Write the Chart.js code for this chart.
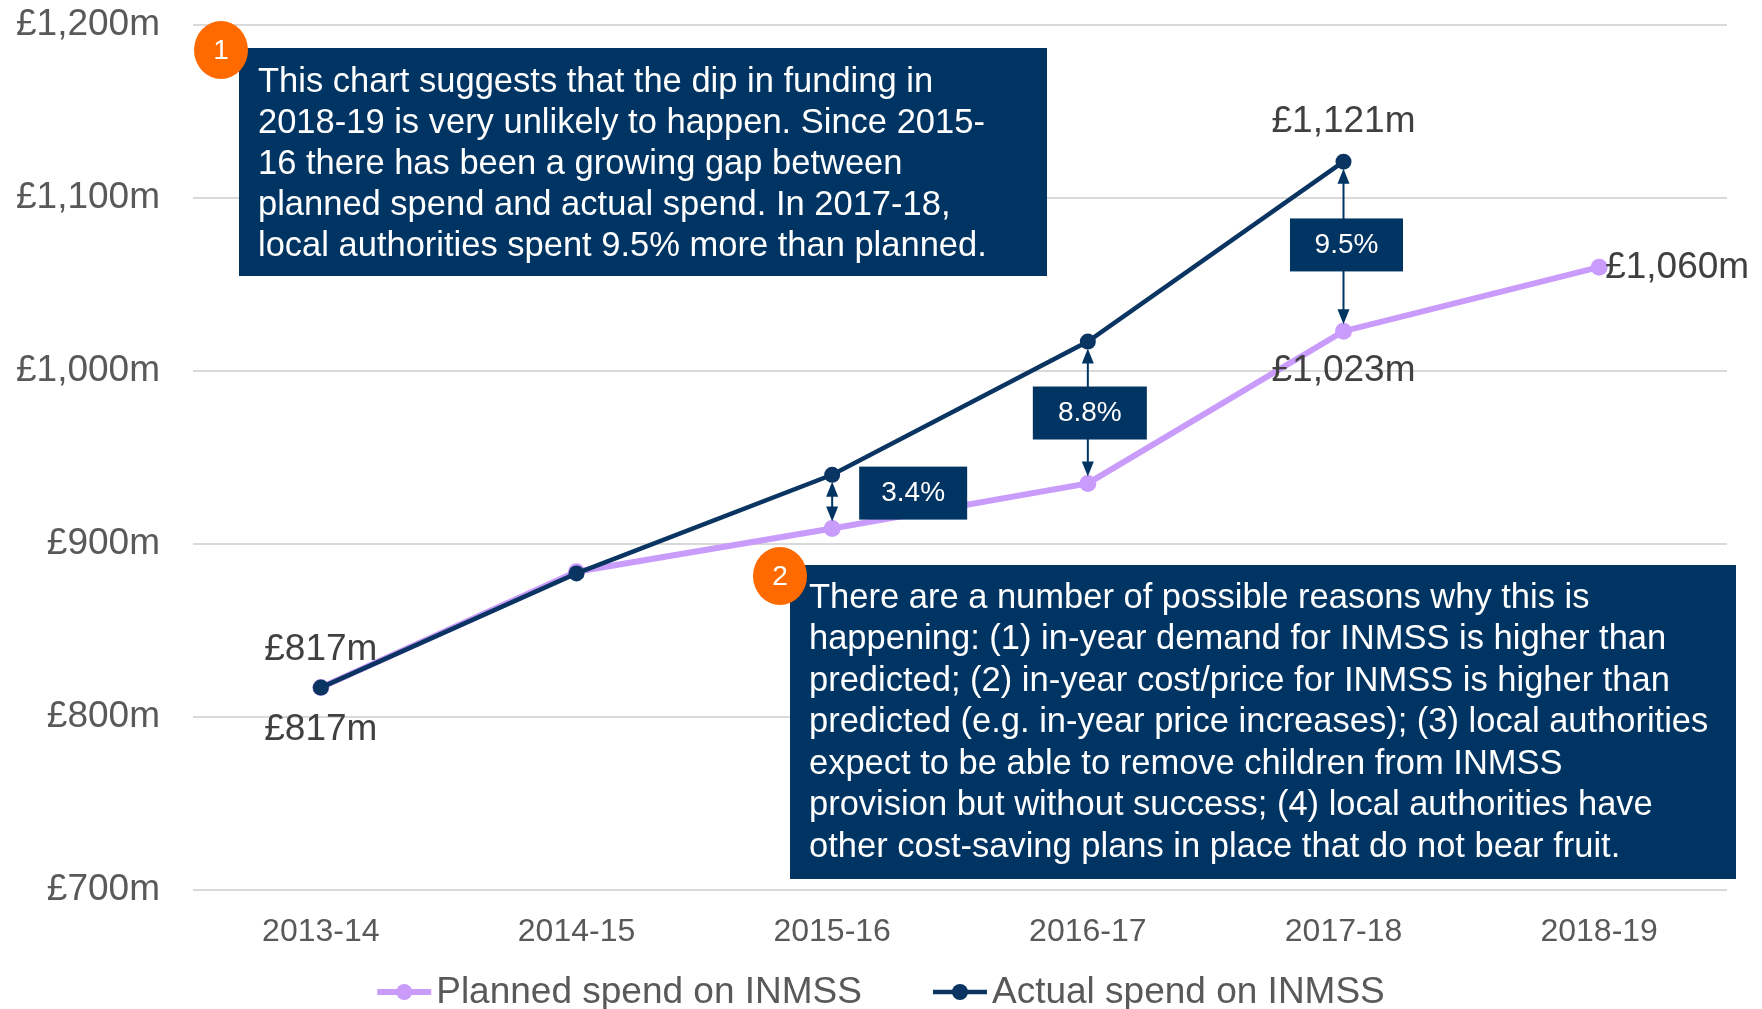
<!DOCTYPE html>
<html>
<head>
<meta charset="utf-8">
<script src="https://cdn.jsdelivr.net/npm/chart.js@4.4.1/dist/chart.umd.min.js"></script>
<style>
  html, body { margin: 0; padding: 0; background: #fff; }
  #wrap { width: 1762px; height: 1009px; position: relative; }
</style>
</head>
<body>
<div id="wrap"><canvas id="chart" width="1762" height="1009"></canvas></div>
<script>
// ============ DATA ============
const years = ['2013-14', '2014-15', '2015-16', '2016-17', '2017-18', '2018-19'];
const plannedSpend = [817, 884, 909, 935, 1023, 1060];
const actualSpend = [817, 883, 940, 1017, 1121, null];
const seriesNames = ['Planned spend on INMSS', 'Actual spend on INMSS'];
const yTicks = [700, 800, 900, 1000, 1100, 1200];

// gap between actual and planned, shown as boxes with arrows
const gapYears = ['2015-16', '2016-17', '2017-18'];
const gapLabels = ['3.4%', '8.8%', '9.5%'];

const note1Lines = [
    'This chart suggests that the dip in funding in',
    '2018-19 is very unlikely to happen. Since 2015-',
    '16 there has been a growing gap between',
    'planned spend and actual spend. In 2017-18,',
    'local authorities spent 9.5% more than planned.'
];
const note2Lines = [
    'There are a number of possible reasons why this is',
    'happening: (1) in-year demand for INMSS is higher than',
    'predicted; (2) in-year cost/price for INMSS is higher than',
    'predicted (e.g. in-year price increases); (3) local authorities',
    'expect to be able to remove children from INMSS',
    'provision but without success; (4) local authorities have',
    'other cost-saving plans in place that do not bear fruit.'
];

// ============ STYLE ============
const NAVY = '#003463';
const LINE_NAVY = '#0a3461';
const PURPLE = '#c99cfb';
const ORANGE = '#ff6a00';
const FONT = '"Liberation Sans", Arial, sans-serif';

function money(v) {
    return '£' + v.toLocaleString('en-GB') + 'm';
}

// ============ DRAW HELPERS ============
function arrowHead(ctx, x, y, dir) {
    // dir = -1 points up, 1 points down
    ctx.beginPath();
    ctx.moveTo(x, y);
    ctx.lineTo(x - 6, y - dir * 15);
    ctx.lineTo(x + 6, y - dir * 15);
    ctx.closePath();
    ctx.fill();
}

function drawArrow(ctx, x, yTop, yBottom) {
    const a = yTop + 7;
    const b = yBottom - 7;
    ctx.save();
    ctx.strokeStyle = NAVY;
    ctx.fillStyle = NAVY;
    ctx.lineWidth = 2;
    ctx.beginPath();
    ctx.moveTo(x, a + 10);
    ctx.lineTo(x, b - 10);
    ctx.stroke();
    arrowHead(ctx, x, a, -1);
    arrowHead(ctx, x, b, 1);
    ctx.restore();
}

function drawBadge(ctx, x, y, num) {
    ctx.save();
    ctx.fillStyle = ORANGE;
    ctx.beginPath();
    ctx.ellipse(x, y, 27, 29, 0, 0, Math.PI * 2);
    ctx.fill();
    ctx.fillStyle = '#fff';
    ctx.font = '28px ' + FONT;
    ctx.textAlign = 'center';
    ctx.textBaseline = 'middle';
    ctx.fillText(num, x, y + 1);
    ctx.restore();
}

function drawNote(ctx, box, lines, textX, firstY, step) {
    ctx.save();
    ctx.fillStyle = NAVY;
    ctx.fillRect(box.x, box.y, box.w, box.h);
    ctx.fillStyle = '#fff';
    ctx.font = '34.5px ' + FONT;
    ctx.textAlign = 'left';
    ctx.textBaseline = 'middle';
    lines.forEach((line, i) => ctx.fillText(line, textX, firstY + i * step));
    ctx.restore();
}

const annotationPlugin = {
    id: 'annotations',
    afterDatasetsDraw(chart) {
        const ctx = chart.ctx;
        const xs = chart.scales.x;
        const ys = chart.scales.y;

        // gap arrows and boxes
        const boxShift = [{ dx: 81, dy: -9, w: 108 }, { dx: 2, dy: 0, w: 114 }, { dx: 3, dy: -2, w: 113 }];
        gapYears.forEach((yr, k) => {
            const i = years.indexOf(yr);
            const x = xs.getPixelForValue(i);
            const yA = ys.getPixelForValue(actualSpend[i]);
            const yP = ys.getPixelForValue(plannedSpend[i]);
            drawArrow(ctx, x, yA, yP);
            const s = boxShift[k];
            const cx = x + s.dx;
            const cy = (yA + yP) / 2 + s.dy;
            ctx.save();
            ctx.fillStyle = NAVY;
            ctx.fillRect(cx - s.w / 2, cy - 26, s.w, 53);
            ctx.fillStyle = '#fff';
            ctx.font = '28px ' + FONT;
            ctx.textAlign = 'center';
            ctx.textBaseline = 'middle';
            ctx.fillText(gapLabels[k], cx, cy + 1);
            ctx.restore();
        });

        // value labels
        const labels = [
            { data: plannedSpend, i: 0, dx: 0, dy: -38, align: 'center' },
            { data: actualSpend, i: 0, dx: 0, dy: 42, align: 'center' },
            { data: actualSpend, i: 4, dx: 0, dy: -40, align: 'center' },
            { data: plannedSpend, i: 4, dx: 0, dy: 40, align: 'center' },
            { data: plannedSpend, i: 5, dx: 6, dy: 1, align: 'left' }
        ];
        ctx.save();
        ctx.fillStyle = '#404040';
        ctx.font = '37px ' + FONT;
        ctx.textBaseline = 'middle';
        labels.forEach(l => {
            const x = xs.getPixelForValue(l.i);
            const y = ys.getPixelForValue(l.data[l.i]);
            ctx.textAlign = l.align;
            ctx.fillText(money(l.data[l.i]), x + l.dx, y + l.dy);
        });
        ctx.restore();

        // notes
        drawNote(ctx, { x: 239, y: 48, w: 808, h: 228 }, note1Lines, 258, 82, 41);
        drawBadge(ctx, 221, 50, '1');
        drawNote(ctx, { x: 790, y: 565, w: 946, h: 314 }, note2Lines, 809, 598, 41.5);
        drawBadge(ctx, 780, 576, '2');
    },
    afterDraw(chart) {
        // legend: line with dot, then label
        const ctx = chart.ctx;
        const colors = [PURPLE, LINE_NAVY];
        const widths = [6, 4.5];
        ctx.save();
        ctx.font = '37px ' + FONT;
        const items = seriesNames.map(n => 59 + ctx.measureText(n).width);
        const gap = 71;
        const total = items.reduce((a, b) => a + b, 0) + gap;
        let x = chart.width / 2 - total / 2;
        const y = 992;
        seriesNames.forEach((name, k) => {
            ctx.strokeStyle = colors[k];
            ctx.fillStyle = colors[k];
            ctx.lineWidth = widths[k];
            ctx.beginPath();
            ctx.moveTo(x, y);
            ctx.lineTo(x + 54, y);
            ctx.stroke();
            ctx.beginPath();
            ctx.arc(x + 27, y, 8, 0, Math.PI * 2);
            ctx.fill();
            ctx.fillStyle = '#595959';
            ctx.textAlign = 'left';
            ctx.textBaseline = 'middle';
            ctx.fillText(name, x + 59, y + 1);
            x += items[k] + gap;
        });
        ctx.restore();
    }
};

// ============ CHART ============
const ctx = document.getElementById('chart').getContext('2d');
new Chart(ctx, {
    type: 'line',
    data: {
        labels: years,
        datasets: [{
            label: seriesNames[1],
            data: actualSpend,
            borderColor: LINE_NAVY,
            backgroundColor: LINE_NAVY,
            borderWidth: 4.5,
            pointRadius: 8,
            pointBorderWidth: 0,
            tension: 0,
            order: 0
        }, {
            label: seriesNames[0],
            data: plannedSpend,
            borderColor: PURPLE,
            backgroundColor: PURPLE,
            borderWidth: 6,
            pointRadius: 8.5,
            pointBorderWidth: 0,
            tension: 0,
            order: 1
        }]
    },
    options: {
        responsive: false,
        animation: false,
        layout: { padding: { top: 25, right: 35, left: 0, bottom: 0 } },
        plugins: {
            legend: { display: false },
            tooltip: { enabled: false }
        },
        scales: {
            x: {
                offset: true,
                grid: { display: false },
                border: { display: false },
                ticks: {
                    color: '#595959',
                    font: { family: FONT, size: 32 },
                    padding: 15
                },
                afterFit(scale) { scale.height = 119; }
            },
            y: {
                min: yTicks[0],
                max: yTicks[yTicks.length - 1],
                afterBuildTicks(scale) { scale.ticks = yTicks.map(v => ({ value: v })); },
                // invisible tick marks give the gap between labels and plot
                grid: { color: '#d9d9d9', lineWidth: 2, drawTicks: true, tickLength: 33, tickColor: 'rgba(0,0,0,0)' },
                border: { display: false },
                ticks: {
                    color: '#595959',
                    font: { family: FONT, size: 37 },
                    padding: 0,
                    callback: v => money(v)
                },
                afterFit(scale) { scale.width = 193; }
            }
        }
    },
    plugins: [annotationPlugin]
});
</script>
</body>
</html>
